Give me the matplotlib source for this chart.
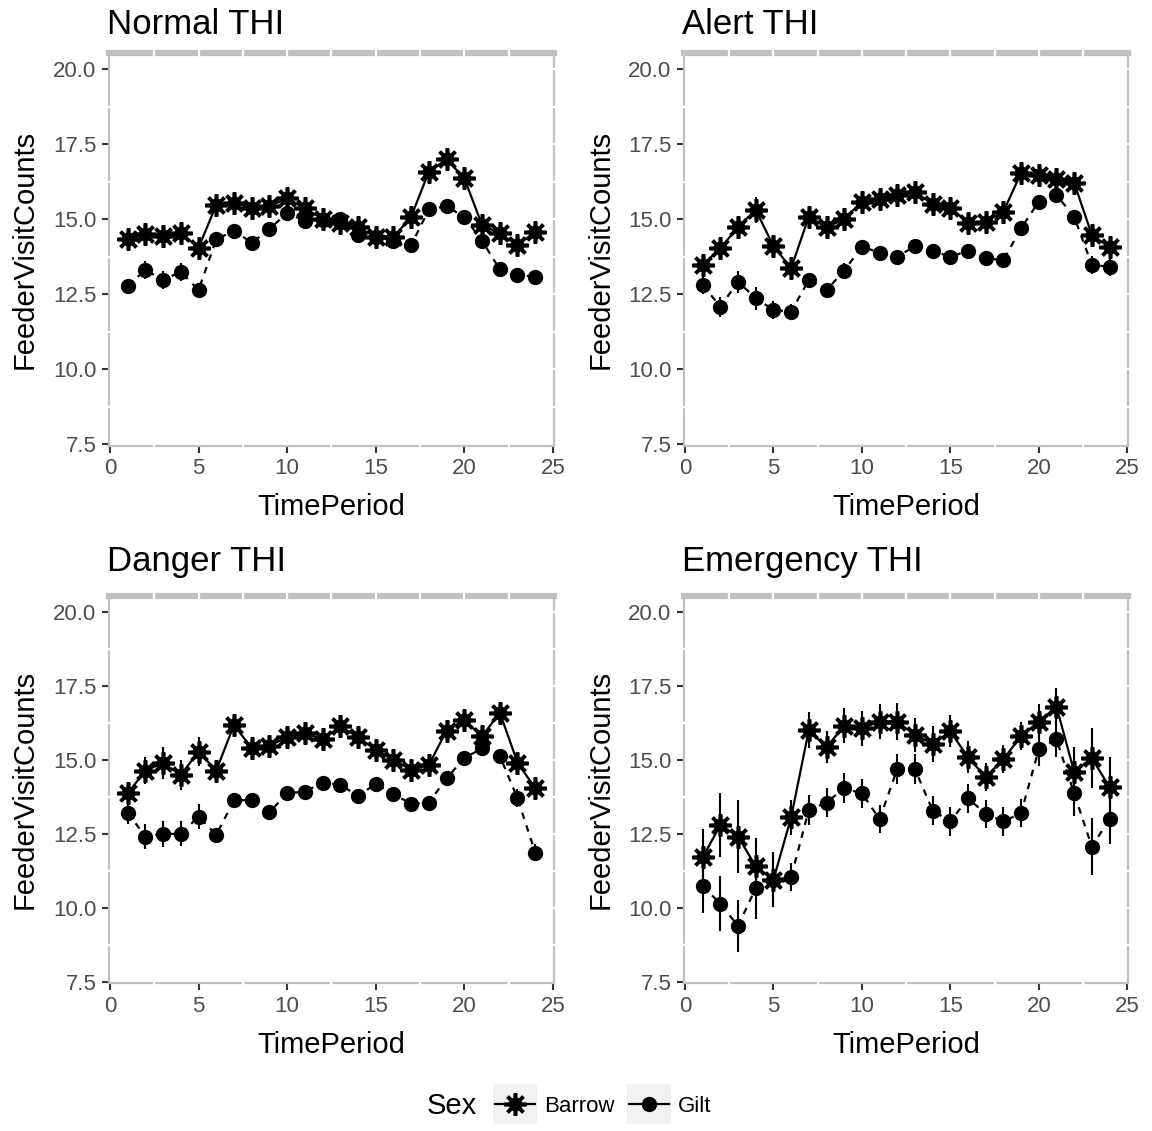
import numpy as np
import matplotlib.pyplot as plt
import matplotlib.transforms as mtransforms
from matplotlib.patches import Rectangle
from matplotlib.lines import Line2D

plt.rcParams['font.family'] = ['Liberation Sans', 'DejaVu Sans']

time_period = list(range(1, 25))

panel_titles = ["Normal THI", "Alert THI", "Danger THI", "Emergency THI"]

# Mean feeder visit counts per time period (Barrow / Gilt) and their standard errors
normal_barrow = [14.32, 14.49, 14.44, 14.54, 14.04, 15.47, 15.54, 15.36, 15.43, 15.69, 15.36, 15.00,
                 14.86, 14.72, 14.41, 14.39, 15.08, 16.58, 16.99, 16.36, 14.80, 14.52, 14.13, 14.58]
normal_barrow_se = [0.15, 0.18, 0.18, 0.18, 0.18, 0.15, 0.15, 0.15, 0.15, 0.15, 0.15, 0.15,
                    0.15, 0.15, 0.15, 0.15, 0.15, 0.15, 0.15, 0.15, 0.15, 0.15, 0.18, 0.15]
normal_gilt = [12.78, 13.30, 12.97, 13.24, 12.63, 14.32, 14.61, 14.21, 14.66, 15.21, 14.93, 14.97,
               15.00, 14.47, 14.40, 14.28, 14.13, 15.32, 15.43, 15.06, 14.28, 13.32, 13.13, 13.08]
normal_gilt_se = [0.2, 0.3, 0.3, 0.3, 0.25, 0.2, 0.2, 0.2, 0.25, 0.2, 0.2, 0.2,
                  0.2, 0.2, 0.2, 0.2, 0.2, 0.2, 0.2, 0.2, 0.2, 0.2, 0.2, 0.2]

alert_barrow = [13.47, 14.02, 14.74, 15.30, 14.10, 13.36, 15.08, 14.72, 15.00, 15.58, 15.67, 15.80,
                15.91, 15.49, 15.38, 14.88, 14.91, 15.24, 16.54, 16.47, 16.32, 16.21, 14.47, 14.06]
alert_barrow_se = [0.25, 0.3, 0.35, 0.44, 0.3, 0.3, 0.2, 0.2, 0.2, 0.2, 0.2, 0.2,
                   0.2, 0.2, 0.2, 0.2, 0.2, 0.2, 0.2, 0.2, 0.2, 0.2, 0.25, 0.25]
alert_gilt = [12.80, 12.08, 12.91, 12.36, 11.97, 11.91, 12.97, 12.63, 13.28, 14.08, 13.88, 13.74,
              14.10, 13.94, 13.74, 13.94, 13.69, 13.63, 14.69, 15.58, 15.80, 15.08, 13.47, 13.41]
alert_gilt_se = [0.3, 0.33, 0.36, 0.39, 0.3, 0.25, 0.2, 0.2, 0.25, 0.2, 0.2, 0.2,
                 0.2, 0.2, 0.2, 0.2, 0.2, 0.2, 0.2, 0.2, 0.2, 0.2, 0.3, 0.3]

danger_barrow = [13.87, 14.64, 14.89, 14.49, 15.28, 14.64, 16.18, 15.39, 15.47, 15.77, 15.90, 15.70,
                 16.13, 15.77, 15.34, 15.00, 14.66, 14.83, 15.99, 16.35, 15.79, 16.60, 14.91, 14.04]
danger_barrow_se = [0.3, 0.47, 0.53, 0.5, 0.48, 0.3, 0.25, 0.25, 0.25, 0.2, 0.2, 0.2,
                    0.25, 0.2, 0.2, 0.2, 0.25, 0.25, 0.25, 0.25, 0.25, 0.36, 0.3, 0.3]
danger_gilt = [13.22, 12.41, 12.50, 12.50, 13.08, 12.47, 13.63, 13.65, 13.23, 13.87, 13.93, 14.23,
               14.16, 13.78, 14.19, 13.85, 13.51, 13.56, 14.38, 15.06, 15.39, 15.14, 13.70, 11.87]
danger_gilt_se = [0.4, 0.42, 0.45, 0.42, 0.42, 0.2, 0.2, 0.2, 0.2, 0.2, 0.2, 0.2,
                  0.2, 0.2, 0.2, 0.2, 0.2, 0.2, 0.2, 0.2, 0.2, 0.2, 0.3, 0.3]

emergency_barrow = [11.71, 12.80, 12.41, 11.40, 10.95, 13.06, 16.01, 15.43, 16.15, 16.07, 16.29, 16.29,
                    15.84, 15.54, 15.96, 15.09, 14.42, 15.02, 15.81, 16.29, 16.80, 14.60, 15.06, 14.08]
emergency_barrow_se = [0.96, 1.07, 1.24, 0.96, 0.93, 0.59, 0.62, 0.54, 0.59, 0.59, 0.59, 0.62,
                       0.56, 0.62, 0.54, 0.54, 0.48, 0.48, 0.48, 0.59, 0.62, 0.84, 1.01, 1.01]
emergency_gilt = [10.74, 10.14, 9.39, 10.67, 10.95, 11.04, 13.31, 13.56, 14.04, 13.87, 13.00, 14.69,
                  14.69, 13.29, 12.92, 13.70, 13.18, 12.92, 13.20, 15.36, 15.70, 13.87, 12.07, 13.00]
emergency_gilt_se = [0.9, 0.93, 0.87, 1.04, 0.8, 0.48, 0.5, 0.5, 0.5, 0.48, 0.48, 0.5,
                     0.5, 0.48, 0.48, 0.48, 0.48, 0.48, 0.48, 0.56, 0.59, 0.76, 0.96, 0.84]

barrow_means = [normal_barrow, alert_barrow, danger_barrow, emergency_barrow]
barrow_errors = [normal_barrow_se, alert_barrow_se, danger_barrow_se, emergency_barrow_se]
gilt_means = [normal_gilt, alert_gilt, danger_gilt, emergency_gilt]
gilt_errors = [normal_gilt_se, alert_gilt_se, danger_gilt_se, emergency_gilt_se]

y_ticks = [7.5, 10.0, 12.5, 15.0, 17.5, 20.0]
x_ticks = [0, 5, 10, 15, 20, 25]

star = (8, 2, 0)
border_gray = '#C0C0C0'

fig = plt.figure(figsize=(11.52, 11.31), dpi=100)

# panel rectangles in figure fractions
panel_rects = [
    [0.0945, 0.6061, 0.3864, 0.3469],
    [0.5937, 0.6061, 0.3857, 0.3469],
    [0.0945, 0.1305, 0.3864, 0.3424],
    [0.5937, 0.1305, 0.3857, 0.3424],
]
title_pads = [14, 14, 18, 18]


def style_panel(ax):
    ax.set_xlim(-0.06, 25.06)
    ax.set_ylim(7.45, 20.53)
    ax.set_xticks(x_ticks)
    ax.set_yticks(y_ticks)
    ax.set_yticklabels([f"{v:.1f}" for v in y_ticks])
    ax.tick_params(direction='out', length=5, width=1.5, color='#333333',
                   labelsize=16, labelcolor='#4D4D4D', pad=4)
    for side in ['left', 'right', 'bottom']:
        ax.spines[side].set_color(border_gray)
        ax.spines[side].set_linewidth(1.6)
    ax.spines['top'].set_color(border_gray)
    ax.spines['top'].set_linewidth(4.5)

    # white grid lines cut small gaps into the grey border
    xt = mtransforms.blended_transform_factory(ax.transData, ax.transAxes)
    yt = mtransforms.blended_transform_factory(ax.transAxes, ax.transData)
    for gx in np.arange(2.5, 25, 2.5):
        ax.plot([gx, gx], [0.99, 1.015], transform=xt, color='white', lw=1.6,
                clip_on=False, zorder=5)
        if gx % 5:
            ax.plot([gx, gx], [-0.004, 0.004], transform=xt, color='white', lw=1.6,
                    clip_on=False, zorder=5)
    for gy in np.arange(8.75, 20.5, 1.25):
        ax.plot([0.996, 1.004], [gy, gy], transform=yt, color='white', lw=1.6,
                clip_on=False, zorder=5)
        if gy % 2.5:
            ax.plot([-0.004, 0.004], [gy, gy], transform=yt, color='white', lw=1.6,
                    clip_on=False, zorder=5)


def draw_star(ax, x, y, size=16):
    # asterisk with a solid hub, like a bold sun symbol
    ax.plot(x, y, ls='none', marker=star, markersize=size, markeredgewidth=2.6,
            color='black')
    ax.plot(x, y, ls='none', marker='o', markersize=9, color='black')


for i in range(4):
    ax = fig.add_axes(panel_rects[i])
    style_panel(ax)

    ax.errorbar(time_period, barrow_means[i], yerr=barrow_errors[i], fmt='none',
                ecolor='black', elinewidth=1.5, capsize=0)
    ax.errorbar(time_period, gilt_means[i], yerr=gilt_errors[i], fmt='none',
                ecolor='black', elinewidth=1.5, capsize=0)
    ax.plot(time_period, barrow_means[i], color='black', lw=1.6, ls='-')
    ax.plot(time_period, gilt_means[i], color='black', lw=1.6, ls=(0, (3, 3)))
    draw_star(ax, time_period, barrow_means[i])
    ax.plot(time_period, gilt_means[i], ls='none', marker='o', markersize=10,
            color='black')

    ax.set_title(panel_titles[i], loc='left', fontsize=25, pad=title_pads[i], x=-0.005)
    ax.set_xlabel("TimePeriod", fontsize=21, labelpad=10)
    ax.set_ylabel("FeederVisitCounts", fontsize=21, labelpad=10)

# legend along the bottom, laid out in pixel coordinates
leg = fig.add_axes([0, 0, 1, 1])
leg.set_xlim(0, 1152)
leg.set_ylim(1131, 0)
leg.axis('off')
leg.patch.set_alpha(0)

leg.text(427, 1106, "Sex", fontsize=21, va='center', ha='left')
legend_items = [("Barrow", star, 493), ("Gilt", 'o', 627)]
for label, marker, x0 in legend_items:
    leg.add_patch(Rectangle((x0, 1084), 44, 40, facecolor='#F2F2F2', edgecolor='none'))
    leg.add_line(Line2D([x0 + 2, x0 + 42], [1104, 1104], color='black', lw=1.6))
    if marker == star:
        draw_star(leg, [x0 + 22], [1104])
    else:
        leg.plot([x0 + 22], [1104], marker=marker, markersize=10, color='black')
    leg.text(x0 + 51, 1106, label, fontsize=16, va='center', ha='left')

fig.savefig("out.png", dpi=100)
